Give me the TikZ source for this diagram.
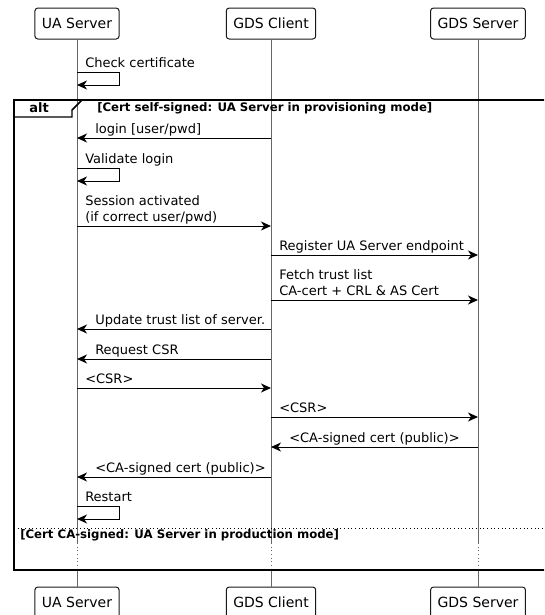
\documentclass[tikz,border=0pt]{standalone}
\usepackage{fontspec}
\setmainfont{DejaVu Sans}
\usetikzlibrary{arrows.meta}

\tikzset{
  part/.style={draw=black!90, rounded corners=2.25pt, line width=0.75pt, minimum height=23.25pt, inner xsep=5.25pt, inner ysep=0pt, font=\fontsize{10.5}{12}\selectfont},
  life/.style={draw=black!60, line width=0.75pt},
  msg/.style={-{Stealth[length=7.5pt,width=6.75pt,inset=2.25pt]}, line width=0.75pt},
  lbl/.style={anchor=base west, inner sep=0pt, font=\fontsize{9.75}{12}\selectfont, align=left},
  grp/.style={line width=1.1pt},
  cond/.style={anchor=west, inner sep=0pt, font=\bfseries\fontsize{8.8}{10}\selectfont},
}

\begin{document}
\begin{tikzpicture}[x=0.75pt, y=-0.75pt]
  \path[use as bounding box, clip] (0,0) rectangle (544,615);

  % participants
  \node[part] (uaT) at (77,23.5) {UA Server};
  \node[part] (gcT) at (271,23.5) {GDS Client};
  \node[part] (gsT) at (478,23.5) {GDS Server};
  \node[part] (uaB) at (77,602.5) {UA Server};
  \node[part] (gcB) at (271,602.5) {GDS Client};
  \node[part] (gsB) at (478,602.5) {GDS Server};

  % lifelines
  \coordinate (uaE) at (77,543);  \coordinate (uaF) at (77,570);
  \coordinate (gcE) at (271,543); \coordinate (gcF) at (271,570);
  \coordinate (gsE) at (478,543); \coordinate (gsF) at (478,570);
  \draw[life] (uaT) -- (uaE);
  \draw[life, dotted] (uaE) -- (uaF);
  \draw[life] (uaF) -- (uaB);
  \draw[life] (gcT) -- (gcE);
  \draw[life, dotted] (gcE) -- (gcF);
  \draw[life] (gcF) -- (gcB);
  \draw[life] (gsT) -- (gsE);
  \draw[life, dotted] (gsE) -- (gsF);
  \draw[life] (gsF) -- (gsB);

  % alt frame
  \draw[grp] (14,100) rectangle (560,570);
  \draw[grp] (14,100) -- (82,100) -- (72,110) -- (72,117) -- (14,117);
  \node[inner sep=0pt, font=\bfseries\fontsize{9.75}{12}\selectfont] (alt) at (39,108) {alt};
  \node[cond] (c1) at (97,108) {[Cert self-signed: UA Server in provisioning mode]};
  \draw[dotted, line width=0.75pt] (14,528) -- (560,528);
  \node[cond] (c2) at (20,535) {[Cert CA-signed: UA Server in production mode]};

  % messages
  \node[lbl] (m1) at (85,67) {Check certificate};
  \draw[msg] (uaT |- 0,72) -- ++(42,0) -- ++(0,13) -- (uaT |- 0,85);

  \node[lbl] (m2) at (95,133) {login [user/pwd]};
  \draw[msg] (gcT |- 0,138) -- (uaT |- 0,138);

  \node[lbl] (m3) at (85,163) {Validate login};
  \draw[msg] (uaT |- 0,168) -- ++(42,0) -- ++(0,13) -- (uaT |- 0,181);

  \node[lbl] (m4) at (85,221) {Session activated\\(if correct user/pwd)};
  \draw[msg] (uaT |- 0,226) -- (gcT |- 0,226);

  \node[lbl] (m5) at (279,250) {Register UA Server endpoint};
  \draw[msg] (gcT |- 0,255) -- (gsT |- 0,255);

  \node[lbl] (m6) at (279,295) {Fetch trust list\\CA-cert + CRL \& AS Cert};
  \draw[msg] (gcT |- 0,300) -- (gsT |- 0,300);

  \node[lbl] (m7) at (95,324) {Update trust list of server.};
  \draw[msg] (gcT |- 0,329) -- (uaT |- 0,329);

  \node[lbl] (m8) at (95,354) {Request CSR};
  \draw[msg] (gcT |- 0,359) -- (uaT |- 0,359);

  \node[lbl] (m9) at (85,383) {<CSR>};
  \draw[msg] (uaT |- 0,388) -- (gcT |- 0,388);

  \node[lbl] (m10) at (279,412) {<CSR>};
  \draw[msg] (gcT |- 0,417) -- (gsT |- 0,417);

  \node[lbl] (m11) at (289,442) {<CA-signed cert (public)>};
  \draw[msg] (gsT |- 0,447) -- (gcT |- 0,447);

  \node[lbl] (m12) at (95,472) {<CA-signed cert (public)>};
  \draw[msg] (gcT |- 0,477) -- (uaT |- 0,477);

  \node[lbl] (m13) at (85,501) {Restart};
  \draw[msg] (uaT |- 0,506) -- ++(42,0) -- ++(0,13) -- (uaT |- 0,519);
\end{tikzpicture}
\end{document}
